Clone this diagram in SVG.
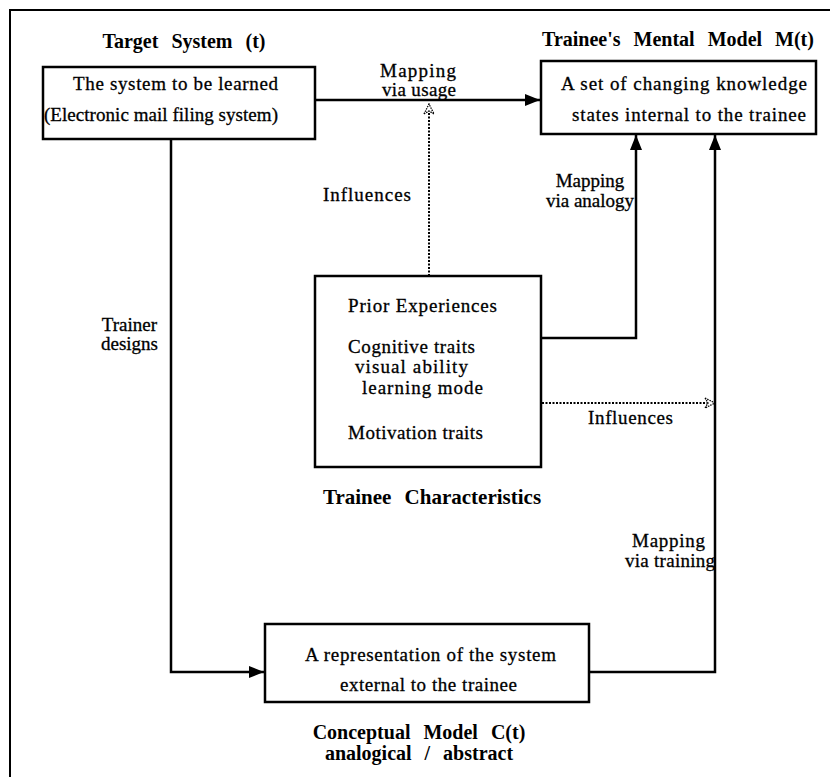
<svg xmlns="http://www.w3.org/2000/svg" width="834" height="777" viewBox="0 0 834 777">
<style>
  .box { fill: #ffffff; stroke: #000; stroke-width: 2.5; }
  .t { font-family: "Liberation Serif", "Times New Roman", serif; font-size: 19px; fill: #000; stroke: #000; stroke-width: 0.3; }
  .tb { font-family: "Liberation Serif", "Times New Roman", serif; font-size: 20px; font-weight: bold; fill: #000; word-spacing: 8px; }
  .ln { fill: none; stroke: #000; stroke-width: 2.5; }
  .dot { fill: none; stroke: #000; stroke-width: 2; stroke-dasharray: 2 1.5; }
</style>
<defs>
  <marker id="arr" viewBox="0 0 15 12" refX="15" refY="6" markerWidth="15" markerHeight="12" markerUnits="userSpaceOnUse" orient="auto">
    <path d="M0,0 L15,6 L0,12 Z" fill="#000"/>
  </marker>
  <marker id="open" viewBox="0 0 12 12" refX="11" refY="6" markerWidth="12" markerHeight="12" markerUnits="userSpaceOnUse" orient="auto">
    <path d="M1,1 L11,6 L1,11 L4,6 Z" fill="#fff" stroke="#000" stroke-width="1.3" stroke-dasharray="1.5 1"/>
  </marker>
</defs>
<rect width="834" height="777" fill="#fff"/>
<g id="frame">
  <path d="M10,777 L10,10 L830,10" fill="none" stroke="#000" stroke-width="2"/>
</g>
<g id="connectors">
  <line class="ln" x1="315" y1="100" x2="540" y2="100" marker-end="url(#arr)"/>
  <line class="dot" x1="429" y1="276" x2="429" y2="104" marker-end="url(#open)"/>
  <path class="ln" d="M541,338 L636,338 L636,135" marker-end="url(#arr)"/>
  <line class="dot" x1="542" y1="403" x2="715" y2="403" marker-end="url(#open)"/>
  <path class="ln" d="M589,672 L715,672 L715,135" marker-end="url(#arr)"/>
  <path class="ln" d="M171,139 L171,672 L264,672" marker-end="url(#arr)"/>
  <text class="t" x="380" y="77" textLength="76">Mapping</text>
  <text class="t" x="382" y="96" textLength="74">via usage</text>
  <text class="t" x="323" y="201" textLength="88">Influences</text>
  <text class="t" x="590" y="187" text-anchor="middle">Mapping</text>
  <text class="t" x="590" y="207" text-anchor="middle">via analogy</text>
  <text class="t" x="588" y="424" textLength="85">Influences</text>
  <text class="t" x="632" y="547" textLength="73">Mapping</text>
  <text class="t" x="625" y="567" textLength="90">via training</text>
  <text class="t" x="157" y="331" text-anchor="end">Trainer</text>
  <text class="t" x="158" y="350" text-anchor="end">designs</text>
</g>
<g id="target">
  <text class="tb" x="184" y="48" text-anchor="middle">Target System (t)</text>
  <rect class="box" x="43" y="67" width="272" height="72"/>
  <text class="t" x="73" y="90" textLength="205">The system to be learned</text>
  <text class="t" x="44" y="121" textLength="234">(Electronic mail filing system)</text>
</g>
<g id="mental">
  <text class="tb" x="678" y="46" text-anchor="middle">Trainee's Mental Model M(t)</text>
  <rect class="box" x="541" y="61" width="275" height="73"/>
  <text class="t" x="561" y="90" textLength="246">A set of changing knowledge</text>
  <text class="t" x="572" y="121" textLength="234">states internal to the trainee</text>
</g>
<g id="characteristics">
  <rect class="box" x="315" y="276" width="226" height="191"/>
  <text class="t" x="348" y="312" textLength="149">Prior Experiences</text>
  <text class="t" x="348" y="353" textLength="127">Cognitive traits</text>
  <text class="t" x="355" y="373" textLength="113">visual ability</text>
  <text class="t" x="362" y="394" textLength="121">learning mode</text>
  <text class="t" x="348" y="439" textLength="135">Motivation traits</text>
  <text class="tb" x="432" y="504" text-anchor="middle" style="font-size:21px">Trainee Characteristics</text>
</g>
<g id="conceptual">
  <rect class="box" x="265" y="624" width="324" height="78"/>
  <text class="t" x="305" y="661" textLength="251">A representation of the system</text>
  <text class="t" x="340" y="691" textLength="177">external to the trainee</text>
  <text class="tb" x="419" y="739" text-anchor="middle" style="font-size:20px">Conceptual Model C(t)</text>
  <text class="tb" x="419" y="760" text-anchor="middle" style="font-size:20px">analogical / abstract</text>
</g>
</svg>
